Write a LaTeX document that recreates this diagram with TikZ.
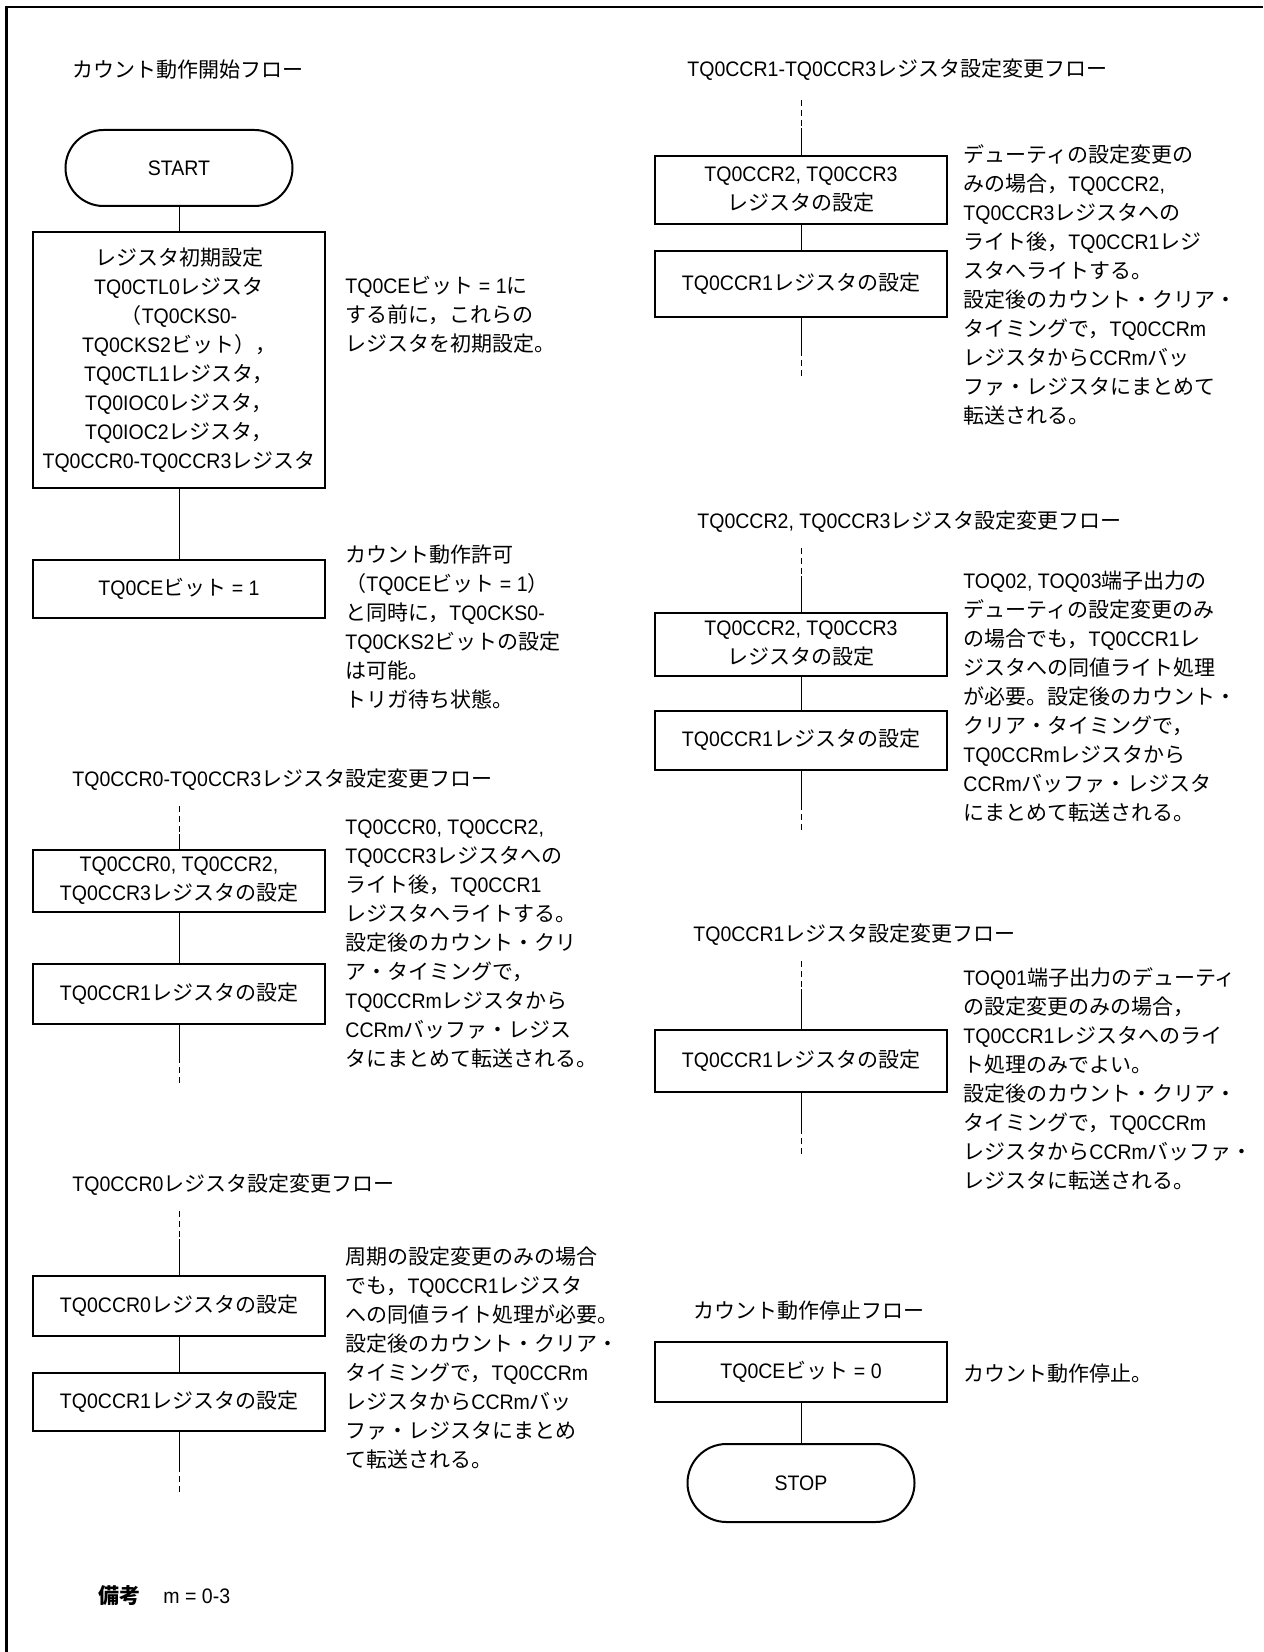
\documentclass[tikz,border=0pt]{standalone}
\usepackage{fontspec}
\setmainfont{Liberation Sans}[FakeStretch=0.93]
\newfontfamily\jpfont{Noto Sans CJK JP}
\XeTeXinterchartokenstate=1
\newXeTeXintercharclass\jpclass
\newcount\jpc
\jpc="3000 \loop\XeTeXcharclass\jpc=\jpclass\ifnum\jpc<"30FF\advance\jpc by 1\repeat
\jpc="4E00 \loop\XeTeXcharclass\jpc=\jpclass\ifnum\jpc<"9FFF\advance\jpc by 1\repeat
\jpc="FF00 \loop\XeTeXcharclass\jpc=\jpclass\ifnum\jpc<"FFEF\advance\jpc by 1\repeat
\XeTeXinterchartoks 0 \jpclass={\begingroup\jpfont}
\XeTeXinterchartoks 4095 \jpclass={\begingroup\jpfont}
\XeTeXinterchartoks \jpclass 0={\endgroup}
\XeTeXinterchartoks \jpclass 4095={\endgroup}
\begin{document}
\begin{tikzpicture}[x=0.5pt,y=-0.5pt,
    font=\fontsize{10.5pt}{14.5pt}\selectfont,
    box/.style={draw,line width=1pt,minimum width=146pt,minimum height=30pt,align=center,inner sep=0pt},
    term/.style={draw,line width=1pt,rounded corners=19pt,minimum width=113.5pt,minimum height=38pt,inner sep=0pt},
    note/.style={anchor=north west,align=left,inner sep=0pt},
    head/.style={anchor=west,inner sep=0pt},
    link/.style={line width=0.5pt},
    cut/.style={line width=0.5pt,dash pattern=on 3pt off 2pt}]
\useasboundingbox (0,0) rectangle (1263,1652);
\draw[line width=1.2pt] (6.5,1652) -- (6.5,7) -- (1263,7);
\node[head] (t1) at (72,70) {カウント動作開始フロー};
\node[term] (start) at (179,168) {START};
\node[box,minimum height=128pt] (init) at (179,360) {レジスタ初期設定\\TQ0CTL0レジスタ\\（TQ0CKS0-\\TQ0CKS2ビット），\\TQ0CTL1レジスタ，\\TQ0IOC0レジスタ，\\TQ0IOC2レジスタ，\\TQ0CCR0-TQ0CCR3レジスタ};
\node[note] (n1) at (345,276) {TQ0CEビット = 1に\\する前に，これらの\\レジスタを初期設定。};
\node[box,minimum height=29pt] (ceon) at (179,589) {TQ0CEビット = 1};
\node[note] (n2) at (345,544) {カウント動作許可\\（TQ0CEビット = 1）\\と同時に，TQ0CKS0-\\TQ0CKS2ビットの設定\\は可能。\\トリガ待ち状態。};
\draw[link] (start) -- (init);
\draw[link] (init) -- (ceon);
\node[head] (t2) at (72,780) {TQ0CCR0-TQ0CCR3レジスタ設定変更フロー};
\node[box,minimum height=31pt] (ccra) at (179,881) {TQ0CCR0, TQ0CCR2,\\TQ0CCR3レジスタの設定};
\node[box] (ccrb) at (179,994) {TQ0CCR1レジスタの設定};
\node[note] (n3) at (345,819) {TQ0CCR0, TQ0CCR2,\\TQ0CCR3レジスタへの\\ライト後，TQ0CCR1\\レジスタへライトする。\\設定後のカウント・クリ\\ア・タイミングで，\\TQ0CCRmレジスタから\\CCRmバッファ・レジス\\タにまとめて転送される。};
\node[head] (t3) at (72,1185) {TQ0CCR0レジスタ設定変更フロー};
\node[box] (ccrc) at (179,1306) {TQ0CCR0レジスタの設定};
\node[box,minimum height=29pt] (ccrd) at (179,1402) {TQ0CCR1レジスタの設定};
\node[note] (n4) at (345,1246) {周期の設定変更のみの場合\\でも，TQ0CCR1レジスタ\\への同値ライト処理が必要。\\設定後のカウント・クリア・\\タイミングで，TQ0CCRm\\レジスタからCCRmバッ\\ファ・レジスタにまとめ\\て転送される。};
\node[head,font=\fontsize{10.5pt}{14.5pt}\selectfont\bfseries] (rem) at (98,1596) {備考};
\node[head] (remm) at (163,1596) {m = 0-3};
\node[head] (t4) at (687,70) {TQ0CCR1-TQ0CCR3レジスタ設定変更フロー};
\node[box,minimum height=34pt] (ccre) at (801,190) {TQ0CCR2, TQ0CCR3\\レジスタの設定};
\node[box,minimum height=33pt] (ccrf) at (801,284) {TQ0CCR1レジスタの設定};
\node[note] (n5) at (963,144) {デューティの設定変更の\\みの場合，TQ0CCR2,\\TQ0CCR3レジスタへの\\ライト後，TQ0CCR1レジ\\スタへライトする。\\設定後のカウント・クリア・\\タイミングで，TQ0CCRm\\レジスタからCCRmバッ\\ファ・レジスタにまとめて\\転送される。};
\node[head] (t5) at (697,522) {TQ0CCR2, TQ0CCR3レジスタ設定変更フロー};
\node[box,minimum height=31.5pt] (ccrg) at (801,644) {TQ0CCR2, TQ0CCR3\\レジスタの設定};
\node[box,minimum height=29.5pt] (ccrh) at (801,740) {TQ0CCR1レジスタの設定};
\node[note] (n6) at (963,570) {TOQ02, TOQ03端子出力の\\デューティの設定変更のみ\\の場合でも，TQ0CCR1レ\\ジスタへの同値ライト処理\\が必要。設定後のカウント・\\クリア・タイミングで，\\TQ0CCRmレジスタから\\CCRmバッファ・レジスタ\\にまとめて転送される。};
\node[head] (t6) at (693,935) {TQ0CCR1レジスタ設定変更フロー};
\node[box,minimum height=31pt] (ccri) at (801,1061) {TQ0CCR1レジスタの設定};
\node[note] (n7) at (963,967) {TOQ01端子出力のデューティ\\の設定変更のみの場合，\\TQ0CCR1レジスタへのライ\\ト処理のみでよい。\\設定後のカウント・クリア・\\タイミングで，TQ0CCRm\\レジスタからCCRmバッファ・\\レジスタに転送される。};
\node[head] (t7) at (693,1311) {カウント動作停止フロー};
\node[box] (ceoff) at (801,1372) {TQ0CEビット = 0};
\node[term,minimum height=39pt,rounded corners=19.5pt] (stop) at (801,1483) {STOP};
\node[head] (n8) at (963,1374) {カウント動作停止。};
\draw[link] (ceoff) -- (stop);
\draw[link] (ccra) -- (ccrb);
\draw[link] (ccrc) -- (ccrd);
\draw[link] (ccre) -- (ccrf);
\draw[link] (ccrg) -- (ccrh);
\foreach \x/\ya/\yb/\u/\v in {179/806/1085/ccra/ccrb,179/1211/1494/ccrc/ccrd,801/100/378/ccre/ccrf,801/548/832/ccrg/ccrh,801/961/1156/ccri/ccri}{
  \coordinate (p) at (\x,\ya);
  \coordinate (q) at (\x,\ya+28);
  \coordinate (r) at (\x,\yb-28);
  \coordinate (s) at (\x,\yb);
  \draw[cut] (p) -- (q);
  \draw[link] (q) -- (\u);
  \draw[link] (\v) -- (r);
  \draw[cut] (r) -- (s);}
\end{tikzpicture}
\end{document}
